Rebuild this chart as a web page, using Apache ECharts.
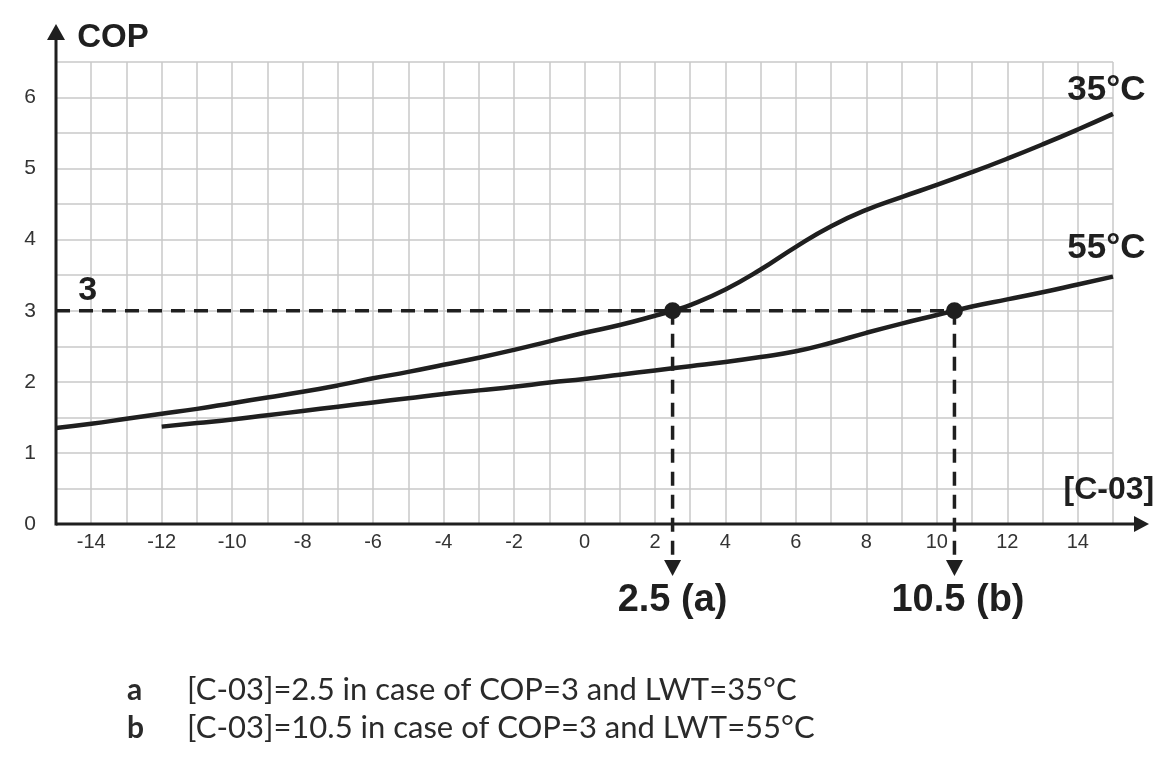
<!DOCTYPE html>
<html>
<head>
<meta charset="utf-8">
<title>COP vs [C-03]</title>
<script src="https://cdn.jsdelivr.net/npm/echarts@6/dist/echarts.min.js"></script>
<style>
  html, body { margin: 0; padding: 0; background: #fff; }
  #main { width: 1175px; height: 760px; }
</style>
</head>
<body>
<div id="main"></div>
<script>
// outdoor temp setting [C-03] vs COP
var xs35 = [-15, -14, -13, -12, -11, -10, -9, -8, -7, -6, -5, -4, -3, -2, -1, 0, 1, 2, 2.5, 3, 4, 5, 6, 7, 8, 9, 10, 11, 12, 13, 14, 15];
var cop35 = [1.35, 1.41, 1.48, 1.55, 1.62, 1.70, 1.78, 1.86, 1.95, 2.05, 2.14, 2.24, 2.34, 2.45, 2.57, 2.69, 2.80, 2.93, 3.0, 3.08, 3.30, 3.58, 3.90, 4.19, 4.42, 4.60, 4.77, 4.95, 5.14, 5.34, 5.55, 5.77];
var xs55 = [-12, -11, -10, -9, -8, -7, -6, -5, -4, -3, -2, -1, 0, 1, 2, 3, 4, 5, 6, 7, 8, 9, 10, 10.5, 11, 12, 13, 14, 15];
var cop55 = [1.37, 1.42, 1.47, 1.53, 1.59, 1.65, 1.71, 1.77, 1.83, 1.88, 1.93, 1.99, 2.04, 2.10, 2.16, 2.22, 2.28, 2.35, 2.43, 2.55, 2.69, 2.82, 2.94, 3.0, 3.06, 3.16, 3.26, 3.37, 3.48];

// reading example: COP=3 -> [C-03]
var readCop = 3;
var readX = [2.5, 10.5];
var readLabels = ['2.5 (a)', '10.5 (b)'];
var curveNames = ['35°C', '55°C'];
var notes = [
  ['a', '[C-03]=2.5 in case of COP=3 and LWT=35°C'],
  ['b', '[C-03]=10.5 in case of COP=3 and LWT=55°C']
];

var ink = '#1f1f1f';
var sans = '"Liberation Sans", Arial, sans-serif';
var chart = echarts.init(document.getElementById('main'));

function pairs(xs, ys) {
  return xs.map(function (x, i) { return [x, ys[i]] })
}

var curveStyle = { color: ink, width: 4.5 }
var dashStyle = { color: ink, width: 3.5, type: [14, 9] }

chart.setOption({
  animation: false,
  textStyle: { fontFamily: sans },
  grid: { left: 56, right: 62, top: 62, bottom: 236 },
  xAxis: {
    type: 'value', min: -15, max: 15, interval: 1,
    axisLine: { show: false },
    axisTick: { show: false },
    splitLine: { lineStyle: { color: '#c8c8c8', width: 1.5 } },
    axisLabel: {
      fontSize: 20, color: '#333', margin: 8, fontFamily: sans,
      formatter: function (v) { return (v % 2 === 0 && Math.abs(v) < 15) ? String(v) : '' }
    }
  },
  yAxis: {
    type: 'value', min: 0, max: 6.5, interval: 0.5,
    axisLine: { show: false },
    axisTick: { show: false },
    splitLine: { lineStyle: { color: '#c8c8c8', width: 1.5 } },
    axisLabel: {
      fontSize: 21, color: '#333', margin: 20, fontFamily: sans,
      formatter: function (v) { return Number.isInteger(v) ? String(v) : '' }
    }
  },
  series: [
    {
      name: curveNames[0], type: 'line', data: pairs(xs35, cop35),
      smooth: 0.5, showSymbol: false, lineStyle: curveStyle, z: 4
    },
    {
      name: curveNames[1], type: 'line', data: pairs(xs55, cop55),
      smooth: 0.5, showSymbol: false, lineStyle: curveStyle, z: 4
    },
    {
      type: 'line', data: [[-15, readCop], [readX[1], readCop]],
      showSymbol: false, lineStyle: dashStyle, z: 3
    },
    {
      type: 'line', data: [[readX[0], readCop], [readX[0], -0.48]],
      showSymbol: false, lineStyle: dashStyle, clip: false, z: 3
    },
    {
      type: 'line', data: [[readX[1], readCop], [readX[1], -0.48]],
      showSymbol: false, lineStyle: dashStyle, clip: false, z: 3
    },
    {
      type: 'scatter', data: readX.map(function (x) { return [x, -0.62] }),
      symbol: 'triangle', symbolRotate: 180, symbolSize: [17, 16],
      itemStyle: { color: ink, opacity: 1 }, clip: false, z: 5
    },
    {
      type: 'scatter', data: readX.map(function (x) { return [x, readCop] }),
      symbolSize: 17, itemStyle: { color: ink, opacity: 1 }, z: 6
    }
  ]
});

// axis arrows and annotation text, placed through the grid's own scale
function px(x, y) { return chart.convertToPixel({ gridIndex: 0 }, [x, y]) }
var o = px(-15, 0), xEnd = px(15, 0), yTop = px(-15, 6.5);

function txt(p, text, font, align, valign) {
  return {
    type: 'text', x: p[0], y: p[1], z: 10,
    style: { text: text, font: font, fill: ink, align: align, verticalAlign: valign }
  }
}

function bf(s) { return 'bold ' + s + 'px ' + sans }

var g = [
  { type: 'line', z: 9, shape: { x1: o[0], y1: o[1], x2: xEnd[0] + 24, y2: o[1] }, style: { stroke: ink, lineWidth: 3 } },
  { type: 'polygon', z: 9, shape: { points: [[xEnd[0] + 21, o[1] - 8], [xEnd[0] + 36, o[1]], [xEnd[0] + 21, o[1] + 8]] }, style: { fill: ink } },
  { type: 'line', z: 9, shape: { x1: o[0], y1: o[1] + 1.5, x2: o[0], y2: yTop[1] - 24 }, style: { stroke: ink, lineWidth: 3 } },
  { type: 'polygon', z: 9, shape: { points: [[o[0] - 9, yTop[1] - 22], [o[0], yTop[1] - 38], [o[0] + 9, yTop[1] - 22]] }, style: { fill: ink } },
  txt(px(-14.4, 6.84), 'COP', bf(33), 'left', 'middle'),
  txt(px(-14.1, 3.29), String(readCop), bf(34), 'center', 'middle'),
  txt(px(15.92, 6.10), curveNames[0], bf(35), 'right', 'middle'),
  txt(px(15.92, 3.88), curveNames[1], bf(35), 'right', 'middle'),
  txt(px(16.17, 0.48), '[C-03]', bf(32), 'right', 'middle'),
  txt(px(readX[0], -1.07), readLabels[0], bf(38), 'center', 'middle'),
  txt(px(10.6, -1.07), readLabels[1], bf(38), 'center', 'middle')
];

notes.forEach(function (n, i) {
  var y = 690 + i * 38;
  g.push({ type: 'text', x: 127, y: y, style: { text: n[0], font: 'bold 30px Lato, sans-serif', fill: '#2a2a2a', verticalAlign: 'middle' } });
  g.push({ type: 'text', x: 187, y: y, style: { text: n[1], font: '31px Lato, sans-serif', fill: '#2a2a2a', verticalAlign: 'middle' } });
});

chart.setOption({ graphic: g });
</script>
</body>
</html>
